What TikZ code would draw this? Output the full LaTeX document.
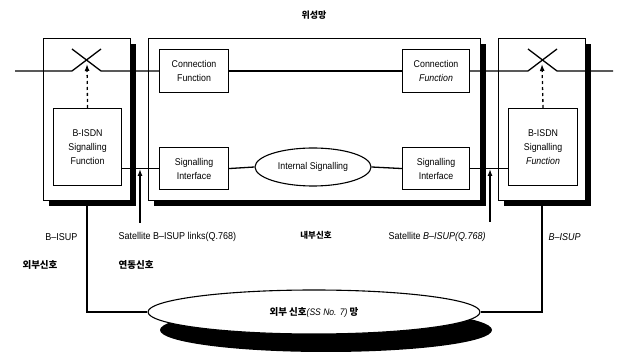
\documentclass[tikz,border=0pt]{standalone}
\usepackage{fontspec}
\setmainfont{Liberation Sans}[FakeStretch=0.9]
\newfontfamily\kr{Noto Sans CJK KR}
\usetikzlibrary{shapes.geometric,arrows.meta,shadows}
\begin{document}
\begin{tikzpicture}[x=1pt,y=-1pt,line width=1.3pt,
  panel/.style={draw,fill=white,line width=1.1pt,anchor=north west,inner sep=0pt,
    drop shadow={shadow xshift=5pt,shadow yshift=-5pt,fill=black,opacity=1}},
  fbox/.style={draw,fill=white,line width=1.1pt,anchor=north west,inner sep=0pt,align=center,
    font=\fontsize{9.8}{14}\selectfont},
  lbl/.style={font=\fontsize{10}{12}\selectfont,inner sep=0pt},
  krl/.style={font=\kr\bfseries\fontsize{9.5}{11}\selectfont,inner sep=0pt},
  tip/.style={-{Latex[length=7pt,width=5pt]}}]
\useasboundingbox[fill=white] (0,0) rectangle (619,355);

% title
\node[krl,font=\kr\bfseries\fontsize{9}{11}\selectfont] (title) at (314,15) {위성망};

% outer panels
\node[panel,minimum width=87pt,minimum height=162pt] (lp) at (43,38) {};
\node[panel,minimum width=332pt,minimum height=162pt] (mp) at (148,38) {};
\node[panel,minimum width=87pt,minimum height=162pt] (rp) at (498,38) {};

% inner boxes
\node[fbox,minimum width=68pt,minimum height=77pt] (lbf) at (53,108) {B-ISDN\\Signalling\\Function};
\node[fbox,minimum width=69pt,minimum height=43pt] (cf1) at (159,49) {Connection\\Function};
\node[fbox,minimum width=69pt,minimum height=42pt] (si1) at (159,147) {Signalling\\Interface};
\node[draw,fill=white,line width=1.1pt,ellipse,inner sep=0pt,minimum width=116pt,minimum height=38pt,
  font=\fontsize{9.8}{12}\selectfont] (ie) at (313,167) {Internal Signalling};
\node[fbox,minimum width=67pt,minimum height=43pt] (cf2) at (402,49) {Connection\\\textit{Function}};
\node[fbox,minimum width=67pt,minimum height=42pt] (si2) at (402,147) {Signalling\\Interface};
\node[fbox,minimum width=69pt,minimum height=77pt] (rbf) at (508,108) {B-ISDN\\Signalling\\\textit{Function}};

% bottom network ellipse
\node[draw,fill=white,line width=1.1pt,ellipse,inner sep=0pt,minimum width=332pt,minimum height=44pt,
  drop shadow={shadow xshift=12pt,shadow yshift=-18pt,fill=black,opacity=1},
  font=\fontsize{9.5}{12}\selectfont] (net) at (314,312)
  {{\kr\bfseries 외부 신호}\textit{(SS No. 7)} {\kr\bfseries 망}};

% coordinates
\coordinate (L0) at (15,71);
\coordinate (R0) at (613,71);
\coordinate (xl1) at (72,71);
\coordinate (xl2) at (101,71);
\coordinate (xl3) at (72,49);
\coordinate (xl4) at (101,49);
\coordinate (xr1) at (528,71);
\coordinate (xr2) at (557,71);
\coordinate (xr3) at (528,49);
\coordinate (xr4) at (557,49);
\coordinate (xlc) at (87,64);
\coordinate (xrc) at (542,64);
\coordinate (a1) at (140,223);
\coordinate (a1t) at (140,169);
\coordinate (a2) at (490,222);
\coordinate (a2t) at (490,169);

% main connection line with switches
\draw (L0) -- (xl1) -- (xl4);
\draw (xl3) -- (xl2) -- (cf1.west |- xl2);
\draw (cf1.east |- xl2) -- (cf2.west |- xl2);
\draw (cf2.east |- xr1) -- (xr1) -- (xr4);
\draw (xr3) -- (xr2) -- (R0);

% signalling line
\draw (lbf.east |- si1.west) -- (si1.west);
\draw (si1.east) -- (ie.west);
\draw (ie.east) -- (si2.west);
\draw (si2.east) -- (rbf.west |- si2.east);

% control arrows
\draw[dashed,tip] (lbf.north) -- (xlc);
\draw[dashed,tip] (rbf.north) -- (xrc);

% satellite link arrows
\draw[tip] (a1) -- (a1t);
\draw[tip] (a2) -- (a2t);

% links to external network
\draw (lp.south) |- (net.west);
\draw (rp.south) |- (net.east);

% labels
\node[lbl,anchor=east] (lb1) at (78,237) {B–ISUP};
\node[krl] (lk1) at (40,265) {외부신호};
\node[lbl,anchor=west] (lb2) at (118,237) {Satellite B–ISUP links(Q.768)};
\node[krl,anchor=west] (lk2) at (118,265) {연동신호};
\node[krl,font=\kr\bfseries\fontsize{8.5}{10}\selectfont] (lk3) at (316,235) {내부신호};
\node[lbl,anchor=west] (lb3) at (388,237) {Satellite \textit{B–ISUP(Q.768)}};
\node[lbl,anchor=west] (lb4) at (548,237) {\textit{B–ISUP}};
\end{tikzpicture}
\end{document}
